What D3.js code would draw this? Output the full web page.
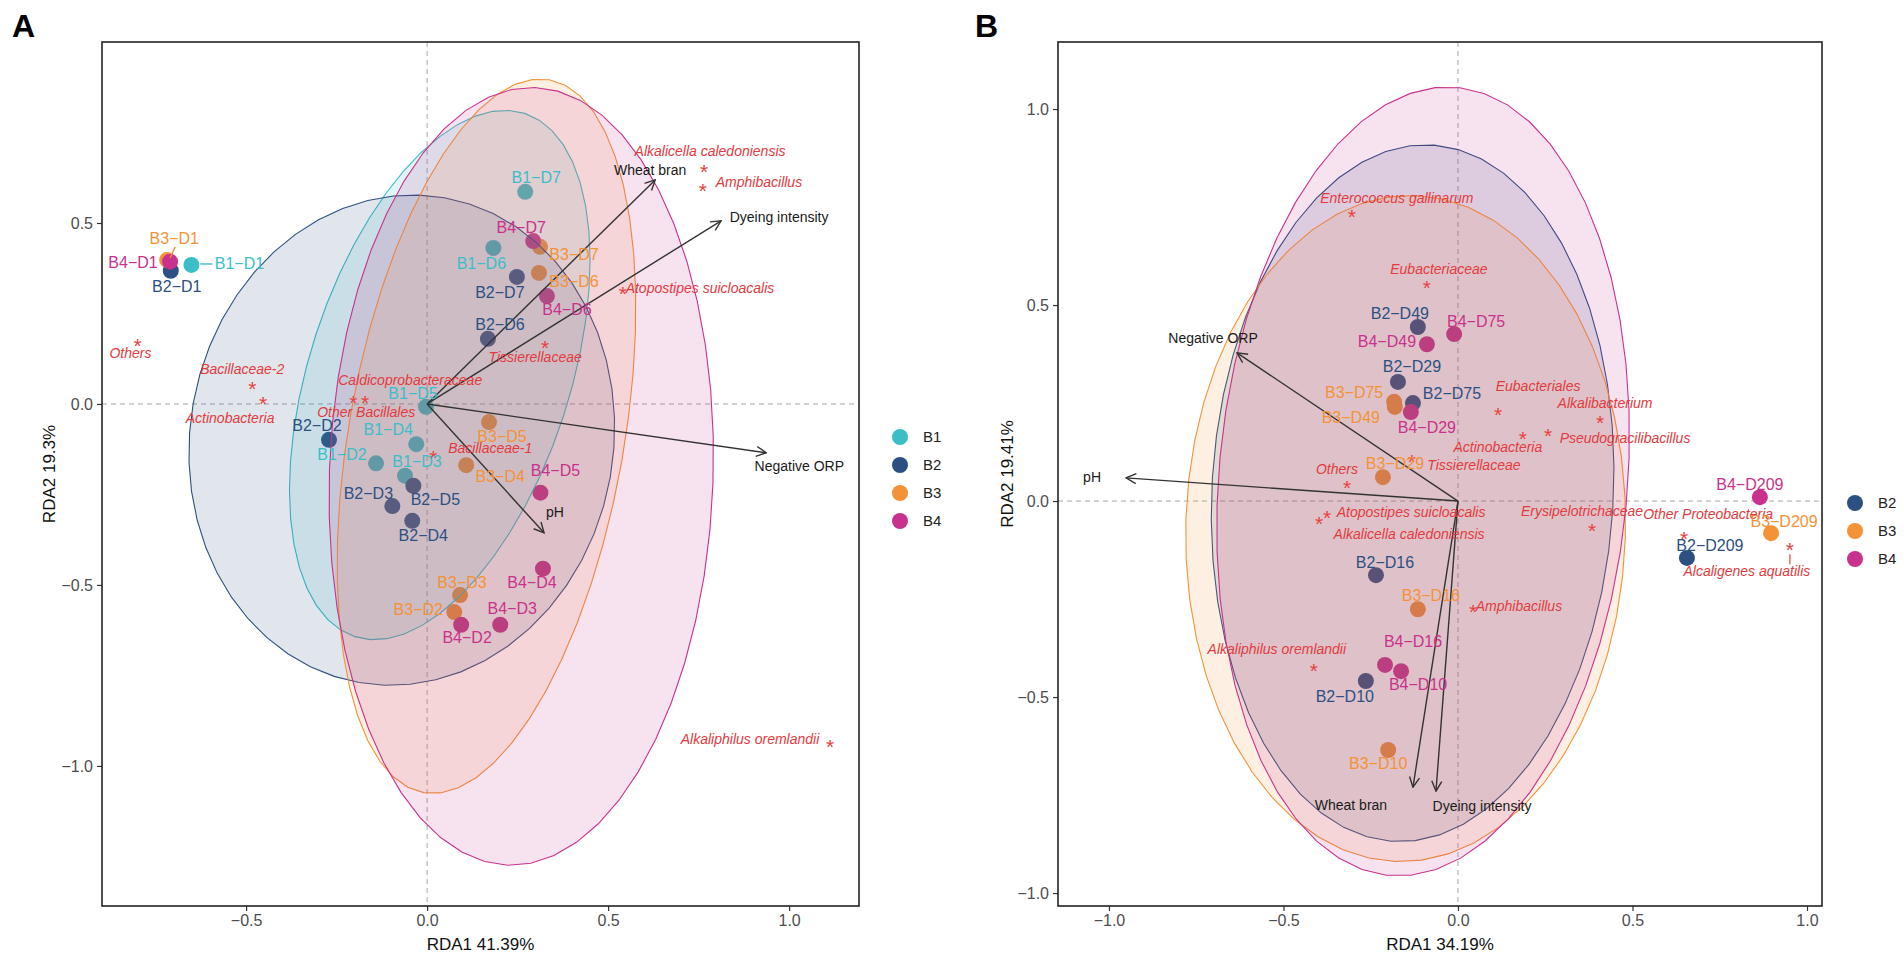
<!DOCTYPE html>
<html>
<head>
<meta charset="utf-8">
<script src="https://cdn.jsdelivr.net/npm/d3@7"></script>
<style>
  body { margin: 0; background: #fff; }
  text { font-family: "Liberation Sans", Arial, sans-serif; }
</style>
</head>
<body>
<svg id="chart" width="1904" height="954"></svg>
<script>
// ---- groups ----
var groups = ["B1", "B2", "B3", "B4"];
var groupColors = ["#3CBEC8", "#2C5082", "#F39237", "#C8328C"];

// ---- panel A: sites ----
var sitesA = ["B1-D1","B1-D2","B1-D3","B1-D4","B1-D5","B1-D6","B1-D7",
              "B2-D1","B2-D2","B2-D3","B2-D4","B2-D5","B2-D6","B2-D7",
              "B3-D1","B3-D2","B3-D3","B3-D4","B3-D5","B3-D6","B3-D7",
              "B4-D1","B4-D2","B4-D3","B4-D4","B4-D5","B4-D6","B4-D7"];
var sitesAX = [-0.651,-0.141,-0.061,-0.030,-0.003,0.183,0.271,
               -0.708,-0.271,-0.096,-0.041,-0.038,0.168,0.248,
               -0.718,0.075,0.091,0.108,0.171,0.309,0.312,
               -0.710,0.094,0.202,0.320,0.313,0.331,0.293];
var sitesAY = [0.384,-0.164,-0.198,-0.111,-0.008,0.431,0.586,
               0.368,-0.099,-0.282,-0.323,-0.226,0.180,0.351,
               0.398,-0.575,-0.528,-0.169,-0.050,0.362,0.434,
               0.393,-0.610,-0.610,-0.455,-0.245,0.298,0.450];

// ---- panel A: species ----
var speciesA = ["Others","Bacillaceae-2","Actinobacteria","Other Bacillales","Caldicoprobacteraceae",
                "Bacillaceae-1","Tissierellaceae","Atopostipes suicloacalis","Alkalicella caledoniensis",
                "Amphibacillus","Alkaliphilus oremlandii"];
var speciesAX = [-0.800,-0.483,-0.453,-0.204,-0.171,0.017,0.326,0.541,0.765,0.762,1.113];
var speciesAY = [0.175,0.058,0.014,0.017,0.017,-0.135,0.169,0.320,0.657,0.605,-0.931];

// ---- panel A: environmental vectors ----
var envA = ["Wheat bran","Dyeing intensity","Negative ORP","pH"];
var envAX = [0.630,0.812,0.937,0.323];
var envAY = [0.619,0.506,-0.135,-0.356];

// ---- panel A: group ellipses (centre, semi axes, angle in degrees) ----
var ellA = ["B1","B2","B3","B4"];
var ellACx = [0.035,-0.07,0.164,0.26];
var ellACy = [0.08,-0.10,-0.089,-0.20];
var ellAA = [0.76,0.68,1.00,1.075];
var ellAB = [0.36,0.585,0.38,0.53];
var ellAAngle = [72,80,80,88];

// ---- panel B: sites ----
var sitesB = ["B2-D10","B2-D16","B2-D29","B2-D49","B2-D75","B2-D209",
              "B3-D10","B3-D16","B3-D29","B3-D49","B3-D75","B3-D209",
              "B4-D10","B4-D16","B4-D29","B4-D49","B4-D75","B4-D209"];
var sitesBX = [-0.264,-0.235,-0.172,-0.115,-0.129,0.656,
               -0.200,-0.115,-0.215,-0.181,-0.183,0.897,
               -0.163,-0.209,-0.135,-0.089,-0.011,0.865];
var sitesBY = [-0.459,-0.189,0.304,0.444,0.250,-0.145,
               -0.635,-0.276,0.061,0.240,0.253,-0.082,
               -0.434,-0.418,0.227,0.400,0.426,0.010];

// ---- panel B: species ----
var speciesB = ["Enterococcus gallinarum","Eubacteriaceae","Others","Tissierellaceae",
                "Atopostipes suicloacalis","Alkalicella caledoniensis","Eubacteriales","Actinobacteria",
                "Pseudogracilibacillus","Alkalibacterium","Erysipelotrichaceae","Amphibacillus",
                "Alkaliphilus oremlandii","Other Proteobacteria","Alcaligenes aquatilis"];
var speciesBX = [-0.304,-0.089,-0.318,-0.132,-0.375,-0.398,0.115,0.186,0.258,0.407,0.384,0.043,-0.413,0.648,0.951];
var speciesBY = [0.740,0.559,0.048,0.115,-0.028,-0.043,0.235,0.173,0.179,0.214,-0.061,-0.268,-0.418,-0.082,-0.110];

// ---- panel B: environmental vectors ----
var envB = ["Negative ORP","pH","Wheat bran","Dyeing intensity"];
var envBX = [-0.633,-0.951,-0.129,-0.063];
var envBY = [0.378,0.059,-0.730,-0.740];

// ---- panel B: group ellipses ----
var ellB = ["B2","B3","B4"];
var ellBCx = [-0.13,-0.15,-0.10];
var ellBCy = [0.02,-0.07,0.05];
var ellBA = [0.89,0.85,1.01];
var ellBB = [0.575,0.63,0.585];
var ellBAngle = [86,88,84];

// label placement (pixel offsets from the mark, like ggrepel would leave them)
var nudgeA = {
  "B1-D1":[48,-2],"B1-D2":[-34,-9],"B1-D3":[12,-14],"B1-D4":[-28,-15],"B1-D5":[-13,-13],
  "B1-D6":[-12,15],"B1-D7":[11,-14],
  "B2-D1":[6,16],"B2-D2":[-12,-14],"B2-D3":[-24,-13],"B2-D4":[11,15],"B2-D5":[22,14],
  "B2-D6":[12,-14],"B2-D7":[-17,15],
  "B3-D1":[7,-22],"B3-D2":[-36,-3],"B3-D3":[2,-13],"B3-D4":[34,11],"B3-D5":[13,14],
  "B3-D6":[35,8],"B3-D7":[34,8],
  "B4-D1":[-37,1],"B4-D2":[6,13],"B4-D3":[12,-16],"B4-D4":[-11,14],"B4-D5":[15,-22],
  "B4-D6":[20,13],"B4-D7":[-12,-14],
  "Others":[-7,12],"Bacillaceae-2":[-10,-14],"Actinobacteria":[-33,19],"Other Bacillales":[13,14],
  "Caldicoprobacteraceae":[45,-18],"Bacillaceae-1":[57,-5],"Tissierellaceae":[-10,14],
  "Atopostipes suicloacalis":[77,0],"Alkalicella caledoniensis":[6,-15],"Amphibacillus":[56,-3],
  "Alkaliphilus oremlandii":[-80,-2],
  "Wheat bran":[-5,-10],"Dyeing intensity":[58,-4],"Negative ORP":[33,13],"pH":[11,-21]
};
var nudgeB = {
  "B2-D10":[-21,15],"B2-D16":[9,-13],"B2-D29":[14,-15],"B2-D49":[-18,-14],"B2-D75":[39,-10],"B2-D209":[23,-12],
  "B3-D10":[-10,13],"B3-D16":[13,-14],"B3-D29":[12,-14],"B3-D49":[-44,10],"B3-D75":[-40,-9],"B3-D209":[13,-12],
  "B4-D10":[17,13],"B4-D16":[28,-24],"B4-D29":[16,15],"B4-D49":[-40,-3],"B4-D75":[22,-13],"B4-D209":[-10,-13],
  "Enterococcus gallinarum":[45,-13],"Eubacteriaceae":[12,-13],"Others":[-10,-13],"Tissierellaceae":[62,9],
  "Atopostipes suicloacalis":[84,0],"Alkalicella caledoniensis":[90,16],"Eubacteriales":[40,-23],
  "Actinobacteria":[-25,14],"Pseudogracilibacillus":[77,7],"Alkalibacterium":[5,-14],
  "Erysipelotrichaceae":[-10,-14],"Amphibacillus":[46,0],"Alkaliphilus oremlandii":[-37,-16],
  "Other Proteobacteria":[24,-19],"Alcaligenes aquatilis":[-43,27],
  "Negative ORP":[-24,-15],"pH":[-34,-1],"Wheat bran":[-62,18],"Dyeing intensity":[46,15]
};
// short leader segments [x1,y1,x2,y2] relative to the mark
var leadersA = {"B1-D1":[9,-1,21,-1],"B3-D1":[3,-2,8,-13]};
var leadersB = {"Alcaligenes aquatilis":[0,10,0,20]};

var starColor = "#E8413F", labelRed = "#E23B3E";
var svg = d3.select("#chart");

var defs = svg.append("defs");
defs.append("marker").attr("id", "arr")
    .attr("viewBox", "0 0 12 12").attr("refX", 11).attr("refY", 6)
    .attr("markerWidth", 12).attr("markerHeight", 12)
    .attr("markerUnits", "userSpaceOnUse").attr("orient", "auto")
  .append("path").attr("d", "M1,1 L11,6 L1,11")
    .attr("fill", "none").attr("stroke", "#333").attr("stroke-width", 1.4);

function colorOf(name) { return groupColors[groups.indexOf(name.slice(0, 2))]; }
function dash(s) { return s.replace("-", "\u2212"); }

function ellipse(cx, cy, a, b, ang) {
  var th = ang * Math.PI / 180;
  return d3.range(52).map(function(i) {
    var t = 2 * Math.PI * i / 52;
    return [cx + a * Math.cos(th) * Math.cos(t) - b * Math.sin(th) * Math.sin(t),
            cy + a * Math.sin(th) * Math.cos(t) + b * Math.cos(th) * Math.sin(t)];
  });
}

function panel(o) {
  var x = d3.scaleLinear().domain(o.xDomain).range([o.left, o.right]);
  var y = d3.scaleLinear().domain(o.yDomain).range([o.bottom, o.top]);
  var g = svg.append("g");

  // dashed zero lines
  g.append("line").attr("x1", x(0)).attr("x2", x(0)).attr("y1", o.top).attr("y2", o.bottom)
      .attr("stroke", "#A6A6A6").attr("stroke-width", 1).attr("stroke-dasharray", "5,4");
  g.append("line").attr("x1", o.left).attr("x2", o.right).attr("y1", y(0)).attr("y2", y(0))
      .attr("stroke", "#A6A6A6").attr("stroke-width", 1).attr("stroke-dasharray", "5,4");

  // site points
  g.selectAll("circle.site").data(o.sites).enter().append("circle")
      .attr("class", "site")
      .attr("cx", function(d, i) { return x(o.sx[i]); })
      .attr("cy", function(d, i) { return y(o.sy[i]); })
      .attr("r", 8)
      .attr("fill", function(d) { return colorOf(d); });

  // ellipses
  var line = d3.line().x(function(d) { return x(d[0]); }).y(function(d) { return y(d[1]); })
      .curve(d3.curveLinearClosed);
  o.ell.forEach(function(gname, i) {
    var c = groupColors[groups.indexOf(gname)];
    g.append("path")
        .attr("d", line(ellipse(o.ecx[i], o.ecy[i], o.ea[i], o.eb[i], o.eang[i])))
        .attr("fill", c).attr("fill-opacity", 0.14)
        .attr("stroke", c).attr("stroke-width", 1.1);
  });

  // environmental arrows
  o.env.forEach(function(nm, i) {
    g.append("line").attr("x1", x(0)).attr("y1", y(0))
        .attr("x2", x(o.ex[i])).attr("y2", y(o.ey[i]))
        .attr("stroke", "#333").attr("stroke-width", 1.4)
        .attr("marker-end", "url(#arr)");
    var n = o.nudge[nm];
    g.append("text").attr("x", x(o.ex[i]) + n[0]).attr("y", y(o.ey[i]) + n[1])
        .attr("dy", "0.35em").attr("text-anchor", "middle")
        .attr("font-size", 14).attr("fill", "#1a1a1a").text(nm);
  });

  // species stars
  o.species.forEach(function(nm, i) {
    var px = x(o.px[i]), py = y(o.py[i]);
    g.append("text").attr("x", px).attr("y", py).attr("dy", "0.6em")
        .attr("text-anchor", "middle").attr("font-size", 21)
        .attr("fill", starColor).text("*");
    var n = o.nudge[nm];
    g.append("text").attr("x", px + n[0]).attr("y", py + n[1])
        .attr("dy", "0.35em").attr("text-anchor", "middle")
        .attr("font-size", 14).attr("font-style", "italic")
        .attr("fill", labelRed).text(nm);
    var s = o.leaders[nm];
    if (s) g.append("line").attr("x1", px + s[0]).attr("y1", py + s[1])
        .attr("x2", px + s[2]).attr("y2", py + s[3])
        .attr("stroke", starColor).attr("stroke-width", 1.2);
  });

  // site labels
  o.sites.forEach(function(nm, i) {
    var px = x(o.sx[i]), py = y(o.sy[i]);
    var n = o.nudge[nm];
    var s = o.leaders[nm];
    if (s) g.append("line").attr("x1", px + s[0]).attr("y1", py + s[1])
        .attr("x2", px + s[2]).attr("y2", py + s[3])
        .attr("stroke", colorOf(nm)).attr("stroke-width", 1.4);
    g.append("text").attr("x", px + n[0]).attr("y", py + n[1])
        .attr("dy", "0.35em").attr("text-anchor", "middle")
        .attr("font-size", 16).attr("fill", colorOf(nm)).text(dash(nm));
  });

  // axes
  var fmt = d3.format(".1f");
  var ax = g.append("g").attr("transform", "translate(0," + o.bottom + ")")
      .call(d3.axisBottom(x).tickValues(o.xTicks).tickFormat(fmt).tickSize(5).tickPadding(4));
  var ay = g.append("g").attr("transform", "translate(" + o.left + ",0)")
      .call(d3.axisLeft(y).tickValues(o.yTicks).tickFormat(fmt).tickSize(5).tickPadding(4));
  [ax, ay].forEach(function(a) {
    a.select(".domain").remove();
    a.selectAll("line").attr("stroke", "#333").attr("stroke-width", 1.2);
    a.selectAll("text").attr("font-size", 16).attr("fill", "#4D4D4D")
        .attr("font-family", "Liberation Sans, Arial, sans-serif");
  });

  g.append("rect").attr("x", o.left).attr("y", o.top)
      .attr("width", o.right - o.left).attr("height", o.bottom - o.top)
      .attr("fill", "none").attr("stroke", "#222").attr("stroke-width", 1.6);

  g.append("text").attr("x", (o.left + o.right) / 2).attr("y", 944)
      .attr("dy", "0.35em").attr("text-anchor", "middle").attr("font-size", 17)
      .attr("fill", "#111").text(o.xTitle);
  g.append("text").attr("transform", "translate(" + o.yTitleX + "," + ((o.top + o.bottom) / 2) + ") rotate(-90)")
      .attr("dy", "0.35em").attr("text-anchor", "middle").attr("font-size", 17)
      .attr("fill", "#111").text(o.yTitle);

  g.append("text").attr("x", o.letterX).attr("y", 37)
      .attr("font-size", 32).attr("font-weight", "bold").attr("fill", "#000").text(o.letter);

  // legend
  o.legend.forEach(function(gname, i) {
    var ly = o.legendY + i * 28;
    g.append("circle").attr("cx", o.legendX).attr("cy", ly).attr("r", 8)
        .attr("fill", groupColors[groups.indexOf(gname)]);
    g.append("text").attr("x", o.legendX + 23).attr("y", ly).attr("dy", "0.35em")
        .attr("font-size", 15).attr("fill", "#222").text(gname);
  });
}

panel({
  left: 102, right: 859, top: 42, bottom: 906,
  xDomain: [-0.898, 1.193], yDomain: [-1.387, 1.0],
  xTicks: [-0.5, 0, 0.5, 1.0], yTicks: [-1.0, -0.5, 0, 0.5],
  sites: sitesA, sx: sitesAX, sy: sitesAY,
  species: speciesA, px: speciesAX, py: speciesAY,
  env: envA, ex: envAX, ey: envAY,
  ell: ellA, ecx: ellACx, ecy: ellACy, ea: ellAA, eb: ellAB, eang: ellAAngle,
  nudge: nudgeA, leaders: leadersA,
  xTitle: "RDA1 41.39%", yTitle: "RDA2 19.3%", yTitleX: 49,
  letter: "A", letterX: 12,
  legend: ["B1", "B2", "B3", "B4"], legendX: 900, legendY: 437
});

panel({
  left: 1058, right: 1822, top: 42, bottom: 906,
  xDomain: [-1.146, 1.043], yDomain: [-1.033, 1.171],
  xTicks: [-1.0, -0.5, 0, 0.5, 1.0], yTicks: [-1.0, -0.5, 0, 0.5, 1.0],
  sites: sitesB, sx: sitesBX, sy: sitesBY,
  species: speciesB, px: speciesBX, py: speciesBY,
  env: envB, ex: envBX, ey: envBY,
  ell: ellB, ecx: ellBCx, ecy: ellBCy, ea: ellBA, eb: ellBB, eang: ellBAngle,
  nudge: nudgeB, leaders: leadersB,
  xTitle: "RDA1 34.19%", yTitle: "RDA2 19.41%", yTitleX: 1007,
  letter: "B", letterX: 975,
  legend: ["B2", "B3", "B4"], legendX: 1855, legendY: 503
});
</script>
</body>
</html>
